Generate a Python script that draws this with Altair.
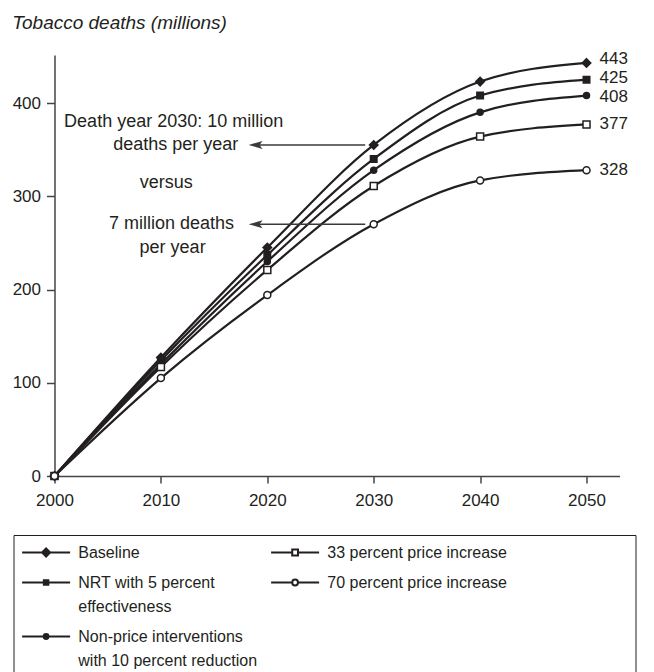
import altair as alt
import pandas as pd

# ---------------- data ----------------
years = [2000, 2010, 2020, 2030, 2040, 2050]
series = [
    "Baseline",
    "NRT with 5 percent effectiveness",
    "Non-price interventions with 10 percent reduction",
    "33 percent price increase",
    "70 percent price increase",
]
baseline = [0, 127, 245, 355, 423, 443]
nrt = [0, 124, 237, 340, 408, 425]
nonprice = [0, 120, 230, 328, 390, 408]
price33 = [0, 117, 221, 311, 364, 377]
price70 = [0, 105, 194, 270, 317, 328]
end_labels = ["443", "425", "408", "377", "328"]

y_ticks = [0, 100, 200, 300, 400]
x_ticks = [2000, 2010, 2020, 2030, 2040, 2050]

ann_text = ["Death year 2030: 10 million", "deaths per year", "versus",
            "7 million deaths", "per year"]
ann_x = [2011.2, 2011.4, 2010.5, 2011.0, 2011.1]
ann_y = [374, 349.5, 308.5, 264.5, 239]

arrow_head_x = [2018.9, 2018.9]
arrow_from = [2019.0, 2019.0]
arrow_to = [2029.2, 2029.2]
arrow_y = [355, 270]

# legend entries (filled column by column, two columns)
legend_lines = {
    "Baseline": ["Baseline"],
    "NRT with 5 percent effectiveness": ["NRT with 5 percent", "effectiveness"],
    "Non-price interventions with 10 percent reduction":
        ["Non-price interventions", "with 10 percent reduction"],
    "33 percent price increase": ["33 percent price increase"],
    "70 percent price increase":
        ["70 percent price increase" + "\u00a0" * 27 + "\u200b"],
}

INK = "#231f20"
FONT = "Liberation Sans"
END_DY = [-4, -2, 1, 0, 0]  # small label nudges (style)

# ---------------- tables ----------------
vals = [baseline, nrt, nonprice, price33, price70]
rows = []
for name, v in zip(series, vals):
    for yr, d in zip(years, v):
        rows.append({"series": name, "year": yr, "deaths": d})
df = pd.DataFrame(rows)

ends = pd.DataFrame({
    "series": series,
    "year": [years[-1]] * len(series),
    "deaths": [v[-1] for v in vals],
    "label": end_labels,
})
ann = pd.DataFrame({"text": ann_text, "year": ann_x, "deaths": ann_y})
arrows = pd.DataFrame({"x1": arrow_from, "x2": arrow_to, "deaths": arrow_y,
                       "hx": arrow_head_x})

# marker shapes (unit paths)
chart_shapes_by = {
    "Baseline": "M0,-0.85L0.85,0L0,0.85L-0.85,0Z",
    "NRT with 5 percent effectiveness": "M-0.65,-0.65H0.65V0.65H-0.65Z",
    "Non-price interventions with 10 percent reduction":
        "M-0.6,0A0.6,0.6 0 1,0 0.6,0A0.6,0.6 0 1,0 -0.6,0Z",
    "33 percent price increase": "M-0.7,-0.7H0.7V0.7H-0.7Z",
    "70 percent price increase": "M-0.7,0A0.7,0.7 0 1,0 0.7,0A0.7,0.7 0 1,0 -0.7,0Z",
}
fill_by = {
    "Baseline": INK,
    "NRT with 5 percent effectiveness": INK,
    "Non-price interventions with 10 percent reduction": INK,
    "33 percent price increase": "white",
    "70 percent price increase": "white",
}
# legend symbols: 1 unit = 8 px, line runs from -3 to 3 (48 px)
legend_shapes_by = {
    "Baseline": "M-3,0H-0.5M0.5,0H3M0,-0.5L0.5,0L0,0.5L-0.5,0Z",
    "NRT with 5 percent effectiveness": "M-3,0H3M-0.28,-0.28H0.28V0.28H-0.28Z",
    "Non-price interventions with 10 percent reduction":
        "M-3,0H3M-0.3,0A0.3,0.3 0 1,0 0.3,0A0.3,0.3 0 1,0 -0.3,0Z",
    "33 percent price increase":
        "M-3,0H-0.36M0.36,0H3M-0.36,-0.36H0.36V0.36H-0.36Z",
    "70 percent price increase":
        "M-3,0H-0.36M0.36,0H3M-0.36,0A0.36,0.36 0 1,0 0.36,0A0.36,0.36 0 1,0 -0.36,0Z",
}


def js_str(s):
    return "'" + s.replace("'", "\\'") + "'"


expr = "datum.label"
for name in reversed(series):
    arr = "[" + ",".join(js_str(t) for t in legend_lines[name]) + "]"
    expr = f"datum.label == {js_str(name)} ? {arr} : ({expr})"

# ---------------- encodings ----------------
x_enc = alt.X("year:Q",
              scale=alt.Scale(domain=[2000, 2053.1], nice=False, zero=False),
              axis=alt.Axis(values=x_ticks, format="d", title=None, tickSize=7,
                            labelPadding=9, grid=False, labelFlush=False))
y_enc = alt.Y("deaths:Q",
              scale=alt.Scale(domain=[0, 451.5], nice=False),
              axis=alt.Axis(values=y_ticks, title=None, tickSize=8,
                            labelPadding=6, grid=False, labelFlush=False))

lines = alt.Chart(df).mark_line(interpolate="monotone", color=INK,
                                strokeWidth=2.2).encode(
    x=x_enc, y=y_enc, detail="series:N")

points = alt.Chart(df).mark_point(opacity=1, stroke=INK, strokeWidth=1.5,
                                  size=100).encode(
    x="year:Q", y="deaths:Q",
    shape=alt.Shape("series:N", legend=None,
                    scale=alt.Scale(domain=series,
                                    range=[chart_shapes_by[s] for s in series])),
    fill=alt.Fill("series:N", legend=None,
                  scale=alt.Scale(domain=series, range=[fill_by[s] for s in series])),
)

legend_def = alt.Legend(
    title=None, orient="none", legendX=-41, legendY=480, columns=2,
    labelExpr=expr, labelFont=FONT, labelFontSize=16, labelColor=INK,
    labelLimit=2000, labelOffset=23.2, labelBaseline="middle",
    symbolSize=256, symbolOffset=15.1, symbolStrokeWidth=2,
    symbolStrokeColor=INK, strokeColor=INK, padding=8.5, rowPadding=13,
    columnPadding=9,
)

legend_layer = alt.Chart(df).transform_filter("false").mark_point(
    opacity=1, strokeWidth=2).encode(
    x="year:Q", y="deaths:Q",
    shape=alt.Shape("series:N", legend=legend_def,
                    scale=alt.Scale(domain=series,
                                    range=[legend_shapes_by[s] for s in series])),
    fill=alt.Fill("series:N", legend=legend_def,
                  scale=alt.Scale(domain=series,
                                  range=[fill_by[s] for s in series])),
    stroke=alt.Stroke("series:N", legend=legend_def,
                      scale=alt.Scale(domain=series, range=[INK] * len(series))),
)

end_layers = []
for lab, dy in zip(end_labels, END_DY):
    end_layers.append(
        alt.Chart(ends).transform_filter(alt.datum.label == lab).mark_text(
            align="left", baseline="middle", dx=13, dy=dy, fontSize=17,
            font=FONT, color=INK).encode(x="year:Q", y="deaths:Q",
                                         text="label:N"))

ann_layer = alt.Chart(ann).mark_text(
    align="center", baseline="alphabetic", fontSize=18, font=FONT,
    color=INK).encode(x="year:Q", y="deaths:Q", text="text:N")

shafts = alt.Chart(arrows).mark_rule(color="#3a3a3a", strokeWidth=1.5).encode(
    x="x1:Q", x2="x2:Q", y="deaths:Q")

heads = alt.Chart(arrows).mark_point(
    shape="M-1,0L1,-0.57L0.55,0L1,0.57Z", filled=True, fill="#3a3a3a",
    strokeWidth=0, size=196, opacity=1).encode(x="hx:Q", y="deaths:Q")

chart = alt.layer(
    lines, points, legend_layer, *end_layers, ann_layer, shafts, heads
).resolve_scale(
    shape="independent", fill="independent", stroke="independent"
).properties(
    width=565, height=421,
    padding={"left": 3.5, "top": 5, "right": 0, "bottom": 5},
    title=alt.TitleParams("Tobacco deaths (millions)", anchor="start",
                          frame="bounds", fontStyle="italic",
                          fontWeight="normal", fontSize=19, font=FONT,
                          color=INK, offset=17),
).configure_axis(
    domainColor="#444444", domainWidth=1.5, tickColor="#444444",
    tickWidth=1.5, labelColor=INK, labelFont=FONT, labelFontSize=17,
).configure_view(stroke=None)

chart.config.style = {"guide-label": {"lineHeight": 24}}

chart.save("out.html", embed_options={"renderer": "svg", "actions": False})
